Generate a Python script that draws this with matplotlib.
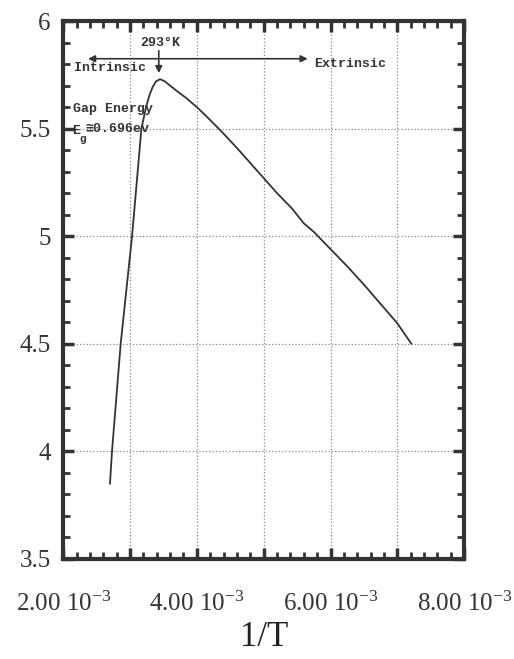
import numpy as np
import matplotlib
matplotlib.use('Agg')
import matplotlib.pyplot as plt
from matplotlib.ticker import FixedLocator, MultipleLocator

plt.rcParams['font.family'] = ['Liberation Serif', 'DejaVu Serif']
plt.rcParams['mathtext.fontset'] = 'custom'
plt.rcParams['mathtext.rm'] = 'Liberation Serif'
plt.rcParams['mathtext.it'] = 'Liberation Serif:italic'

# curve (x in 1/K)
inv_T = np.array([2.70, 2.73, 2.795, 2.86, 2.945, 3.03, 3.10, 3.17, 3.24, 3.29,
                  3.34, 3.39, 3.45, 3.52, 3.60, 3.70, 3.83, 4.00, 4.15, 4.39,
                  4.60, 4.80, 5.00, 5.20, 5.42, 5.60, 5.75, 6.00, 6.25, 6.50,
                  6.75, 7.00, 7.21]) * 1e-3
log_val = [3.85, 4.00, 4.25, 4.50, 4.75, 5.00, 5.25, 5.50, 5.60, 5.655,
           5.695, 5.72, 5.73, 5.72, 5.70, 5.675, 5.645, 5.60, 5.555, 5.48,
           5.41, 5.34, 5.27, 5.20, 5.13, 5.06, 5.02, 4.94, 4.86, 4.775,
           4.685, 4.595, 4.50]

x_major = [2e-3, 3e-3, 4e-3, 5e-3, 6e-3, 7e-3, 8e-3]
x_labels = ['2.00 10$^{-3}$', '', '4.00 10$^{-3}$', '', '6.00 10$^{-3}$', '', '8.00 10$^{-3}$']
y_major = [3.5, 4.0, 4.5, 5.0, 5.5, 6.0]
y_labels = ['3.5', '4', '4.5', '5', '5.5', '6']

peak_x, peak_y = 3.45e-3, 5.73

fig = plt.figure(figsize=(5.14, 6.59), dpi=100)
ax = fig.add_axes([0.123, 0.152, 0.780, 0.816])

ax.plot(inv_T, log_val, color='#333333', lw=1.3)

ax.set_xlim(2e-3, 8e-3)
ax.set_ylim(3.5, 6.0)
ax.xaxis.set_major_locator(FixedLocator(x_major))
ax.set_xticklabels(x_labels)
ax.xaxis.set_minor_locator(MultipleLocator(0.2e-3))
ax.yaxis.set_major_locator(FixedLocator(y_major))
ax.set_yticklabels(y_labels)
ax.yaxis.set_minor_locator(MultipleLocator(0.1))

ax.tick_params(which='both', direction='in', top=True, right=True, color='#333333')
ax.tick_params(which='major', length=8, width=2.5, labelsize=18, colors='#333333')
ax.tick_params(axis='x', which='major', pad=24)
ax.tick_params(axis='y', which='major', pad=9)
ax.tick_params(which='minor', length=5, width=2)
for s in ax.spines.values():
    s.set_linewidth(3)
    s.set_color('#333333')

ax.grid(True, which='major', ls=':', lw=0.9, color='#888888')
ax.set_xlabel('1/T', fontsize=25, color='#222222', labelpad=3)

mono = dict(family=['Liberation Mono', 'DejaVu Sans Mono'], fontweight='bold',
            fontsize=9.5, color='#333333')
ax.text(peak_x, 5.90, '293°K', ha='center', va='center', **mono)
ax.annotate('', xy=(peak_x - 0.02e-3, 5.745), xytext=(peak_x - 0.02e-3, 5.875),
            arrowprops=dict(arrowstyle='-|>', color='#333333', lw=1.2, mutation_scale=10))
ax.annotate('', xy=(2.33e-3, 5.825), xytext=(5.70e-3, 5.825),
            arrowprops=dict(arrowstyle='<|-|>', color='#333333', lw=1.2, mutation_scale=10))
ax.text(2.16e-3, 5.78, 'Intrinsic', ha='left', va='center', **mono)
ax.text(5.76e-3, 5.80, 'Extrinsic', ha='left', va='center', **mono)
ax.text(2.14e-3, 5.59, 'Gap Energy', ha='left', va='center', **mono)
ax.text(2.14e-3, 5.49, 'E', ha='left', va='center', **mono)
sub = dict(mono, fontsize=8)
ax.annotate('g', xy=(2.14e-3, 5.49), xytext=(5, -6), textcoords='offset points',
            ha='left', va='center', **sub)
ax.annotate('≅0.696ev', xy=(2.14e-3, 5.49), xytext=(9, 1), textcoords='offset points',
            ha='left', va='center', **mono)

fig.savefig('out.png', dpi=100, facecolor='white')
